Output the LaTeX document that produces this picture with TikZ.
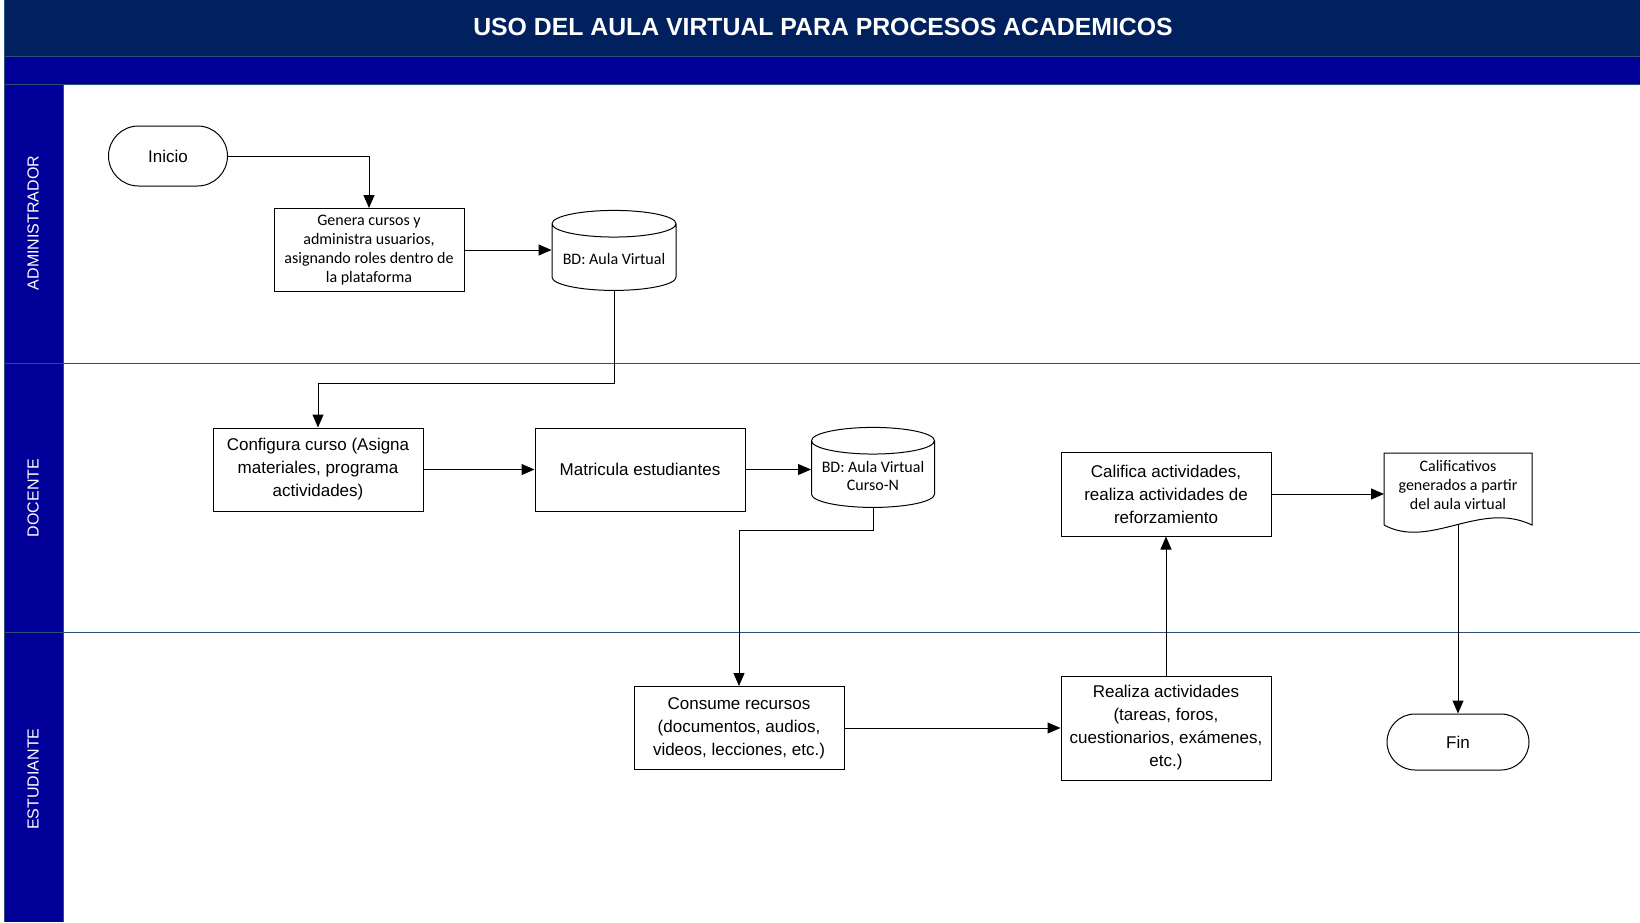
\documentclass[tikz,border=0pt]{standalone}
\usepackage{fontspec}
\setmainfont{Liberation Sans}
\newfontfamily\calfont{Carlito}
\usetikzlibrary{arrows.meta,positioning,shapes.geometric,shapes.misc}
\definecolor{navy}{RGB}{0,33,94}
\definecolor{laneblue}{RGB}{0,0,153}
\definecolor{laneline}{RGB}{40,80,120}

\begin{document}
\begin{tikzpicture}[x=0.5pt,y=-0.5pt,
  proc/.style={draw,line width=0.5pt,minimum width=105pt,minimum height=41.5pt,align=center,inner sep=1pt,font=\fontsize{8.5}{11.5}\selectfont},
  term/.style={draw,rounded rectangle,line width=0.5pt,inner sep=1pt,font=\fontsize{8.5}{10}\selectfont},
  db/.style={draw,cylinder,shape border rotate=90,aspect=0.25,line width=0.5pt,minimum width=62pt,minimum height=40pt,align=center,inner sep=1pt,font=\calfont\fontsize{8}{9}\selectfont},
  flow/.style={-{Triangle[length=6.5pt,width=5.5pt]},line width=0.5pt},
  lanelabel/.style={rotate=90,text=white,font=\fontsize{8}{9}\selectfont}]

\useasboundingbox (0,0) rectangle (1640,922);
% title and lanes
\fill[navy] (4,0) rectangle (1640,56);
\fill[laneblue] (4,56) rectangle (1640,84);
\fill[laneblue] (4,84) rectangle (63,922);
\draw[laneline] (4,56) -- (1640,56) (4,84) -- (1640,84);
\draw[laneline] (4,363) -- (1640,363) (4,632) -- (1640,632);
\draw[laneline] (4,0) -- (4,922) (63,84) -- (63,922);
\node[text=white,font=\bfseries\fontsize{12.4}{14}\selectfont] (title) at (823,27) {USO DEL AULA VIRTUAL PARA PROCESOS ACADEMICOS};
\node[lanelabel] (admin) at (33,223) {ADMINISTRADOR};
\node[lanelabel] (docente) at (33,498) {DOCENTE};
\node[lanelabel] (estud) at (33,779) {ESTUDIANTE};

% administrador
\node[term,minimum width=61.5pt,minimum height=30pt] (inicio) at (168,156) {Inicio};
\node[proc,minimum width=95pt,font=\calfont\fontsize{8}{9.4}\selectfont] (genera) at (369,250)
  {Genera cursos y\\administra usuarios,\\asignando roles dentro de\\la plataforma};
\node[db] (bdaula) at (614,259) {BD: Aula Virtual};

% docente
\node[proc] (config) at (318,469.5) {Configura curso (Asigna\\materiales, programa\\actividades)};
\node[proc] (matric) at (640,469.5) {Matricula estudiantes};
\node[db,minimum width=61.5pt] (bdcurso) at (873,476) {BD: Aula Virtual\\Curso-N};
\node[proc,minimum height=42pt] (califica) at (1166,494) {Califica actividades,\\realiza actividades de\\reforzamiento};
\draw[line width=0.5pt] (1384,525) -- (1384,453) -- (1532,453) -- (1532,525)
  .. controls (1480,500) and (1430,550) .. (1384,525);
\node[align=center,font=\calfont\fontsize{8}{9.3}\selectfont] (calif) at (1458,485) {Calificativos\\generados a partir\\del aula virtual};
\coordinate (docin) at (1384,494);
\coordinate (docout) at (1458,525);

% estudiante
\node[proc] (consume) at (739,728) {Consume recursos\\(documentos, audios,\\videos, lecciones, etc.)};
\node[proc,minimum height=52pt] (realiza) at (1166,728) {Realiza actividades\\(tareas, foros,\\cuestionarios, exámenes,\\etc.)};
\node[term,minimum width=73pt,minimum height=28pt] (fin) at (1458,742) {Fin};

% flujo
\draw[flow] (inicio.east) -| (genera.north);
\draw[flow] (genera.east) -- (bdaula.west |- genera.east);
\draw[flow] (bdaula.south) -- ++(0,93) -| (config.north);
\draw[flow] (config.east) -- (matric.west);
\draw[flow] (matric.east) -- (bdcurso.west |- matric.east);
\draw[flow] (bdcurso.south) -- ++(0,23) -| (consume.north);
\draw[flow] (consume.east) -- (realiza.west);
\draw[flow] (realiza.north) -- (califica.south);
\draw[flow] (califica.east) -- (docin);
\draw[flow] (docout) -- (fin.north);
\end{tikzpicture}
\end{document}
